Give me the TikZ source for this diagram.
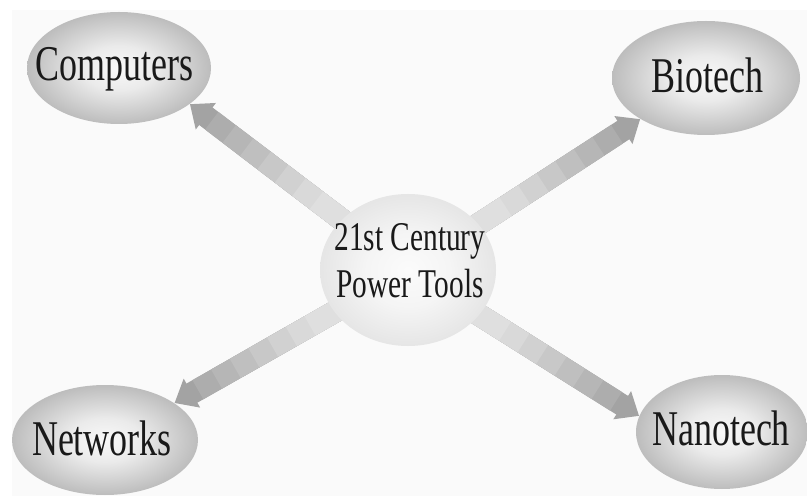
\documentclass[tikz,border=0pt]{standalone}
\usepackage{fontspec}
\setmainfont{Liberation Serif}[FakeStretch=0.72]
\usetikzlibrary{shapes.geometric,arrows.meta,calc}
\pgfdeclarelayer{back}
\pgfdeclarelayer{spokes}
\pgfsetlayers{back,spokes,main}

\colorlet{haloA}{gray!5}
\colorlet{haloB}{gray!16}
\colorlet{haloC}{gray!52}
\colorlet{hubA}{gray!3}
\colorlet{hubB}{gray!8}
\colorlet{hubC}{gray!20}
\pgfdeclareradialshading{halo}{\pgfpoint{0bp}{0bp}}{color(0bp)=(haloA); color(10bp)=(haloB); color(25bp)=(haloC); color(50bp)=(haloC)}
\pgfdeclareradialshading{hubhalo}{\pgfpoint{0bp}{0bp}}{color(0bp)=(hubA); color(12bp)=(hubB); color(25bp)=(hubC); color(50bp)=(hubC)}

\tikzset{
  bubble/.style={ellipse, inner sep=0pt, shade, shading=halo},
  word/.style={anchor=base, text=black!90, font=\fontsize{25}{30}\selectfont},
  spoke/.style={line width=11pt, draw=gray!72, -{Triangle[width=16pt,length=10pt]}},
  band/.style={line width=11pt},
}

\begin{document}
\begin{tikzpicture}[x=0.5pt, y=-0.5pt]
	\useasboundingbox (0, 0) rectangle (807, 496);
	\begin{pgfonlayer}{back}
	\fill [gray!4] (12, 10) rectangle (807, 496);
	\end{pgfonlayer}
	\node [bubble, minimum width=88pt, minimum height=76pt, shading=hubhalo] (hub) at (408, 270) {};
	\node [bubble, minimum width=92pt, minimum height=56pt] (comp) at (119, 68) {};
	\node [bubble, minimum width=94pt, minimum height=57pt] (bio) at (706, 78) {};
	\node [bubble, minimum width=93pt, minimum height=55pt] (net) at (105, 440) {};
	\node [bubble, minimum width=86pt, minimum height=57pt] (nano) at (722, 432) {};
	\node [word] (compT) at (114, 81) {Computers};
	\node [word] (bioT) at (707, 93) {Biotech};
	\node [word] (netT) at (102, 455) {Networks};
	\node [word] (nanoT) at (721, 445) {Nanotech};
	\node [word, anchor=center, align=center, font=\fontsize{20.4}{23.5}\selectfont] (hubT) at (410, 261) {21st Century\\Power Tools};
	% spokes, darker towards the tip
	\begin{pgfonlayer}{spokes}
	\foreach \f/\a in {comp/-27, bio/212, net/28, nano/169} {
		\draw [spoke] (hub) -- (\f.\a);
		\foreach \t/\c in {0.90/64, 0.82/57, 0.74/50, 0.66/43, 0.58/36, 0.50/30, 0.42/25}
			\draw [band, draw=gray!\c] (hub.center) -- ($(hub.center)!\t!(\f.\a)$);
	}
	\end{pgfonlayer}
\end{tikzpicture}
\end{document}
